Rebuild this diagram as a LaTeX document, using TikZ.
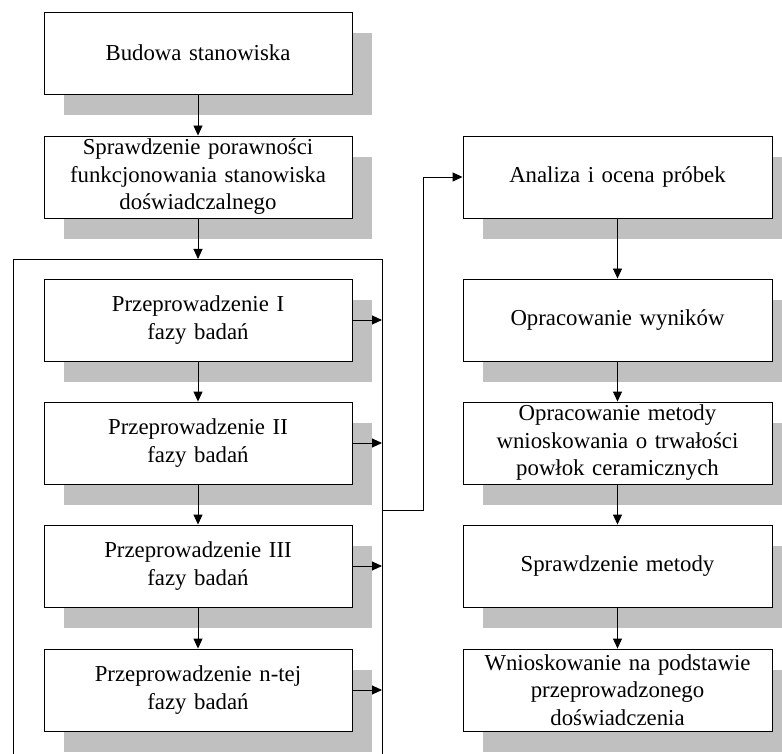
\documentclass[tikz,border=0pt]{standalone}
\usepackage{fontspec}
\setmainfont{Liberation Serif}
\usetikzlibrary{arrows.meta,shadows}
\definecolor{shadowgray}{RGB}{192,192,192}
\tikzset{
  stepbox/.style={draw=black, line width=0.9pt, fill=white, rectangle,
    minimum width=308pt, minimum height=82pt, text width=290pt, align=center,
    inner sep=0pt, font=\fontsize{22.8}{27.5}\selectfont,
    general shadow={fill=shadowgray, shadow xshift=20pt, shadow yshift=-21pt}},
  conn/.style={draw=black, line width=0.9pt, -{Triangle[length=10pt,width=9pt]}},
  plain/.style={draw=black, line width=0.9pt}
}
\begin{document}
\begin{tikzpicture}[x=1pt,y=-1pt]
\clip (0,0) rectangle (782,754);
% left column
\node[stepbox] (b1) at (198,53) {Budowa stanowiska};
\node[stepbox] (b2) at (198,177) {Sprawdzenie porawności\\funkcjonowania stanowiska\\doświadczalnego};
\node[stepbox] (f1) at (198,320) {Przeprowadzenie I\\fazy badań};
\node[stepbox] (f2) at (198,443) {Przeprowadzenie II\\fazy badań};
\node[stepbox] (f3) at (198,566) {Przeprowadzenie III\\fazy badań};
\node[stepbox] (fn) at (198,690) {Przeprowadzenie n-tej\\fazy badań};
% right column
\node[stepbox, minimum width=309pt] (r1) at (617.5,177) {Analiza i ocena próbek};
\node[stepbox, minimum width=309pt] (r2) at (617.5,320) {Opracowanie wyników};
\node[stepbox, minimum width=309pt] (r3) at (617.5,443) {Opracowanie metody\\wnioskowania o trwałości\\powłok ceramicznych};
\node[stepbox, minimum width=309pt] (r4) at (617.5,566) {Sprawdzenie metody};
\node[stepbox, minimum width=309pt] (r5) at (617.5,690) {Wnioskowanie na podstawie\\przeprowadzonego\\doświadczenia};
% frame
\coordinate (ftop) at (198,259);
\coordinate (ftl) at (13,259);
\coordinate (ftr) at (382,259);
\coordinate (fbl) at (13,770);
\coordinate (fbr) at (382,770);
\coordinate (out) at (382,510);
\coordinate (bend) at (423,510);
\draw[plain] (fbl) -- (ftl) -- (ftr) -- (fbr);
% arrows
\draw[conn] (b1.south) -- (b2.north);
\draw[conn] (b2.south) -- (ftop);
\draw[conn] (f1.south) -- (f2.north);
\draw[conn] (f2.south) -- (f3.north);
\draw[conn] (f3.south) -- (fn.north);
\foreach \n in {f1,f2,f3,fn}{
  \draw[conn] (\n.east) -- (\n.east -| ftr);
}
\draw[conn] (out) -- (bend) |- (r1.west);
\draw[conn] (r1.south) -- (r2.north);
\draw[conn] (r2.south) -- (r3.north);
\draw[conn] (r3.south) -- (r4.north);
\draw[conn] (r4.south) -- (r5.north);
\end{tikzpicture}
\end{document}
